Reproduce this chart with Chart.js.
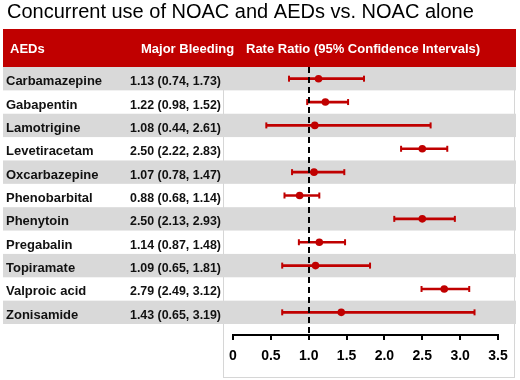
<!DOCTYPE html>
<html>
<head>
<meta charset="utf-8">
<script src="https://cdn.jsdelivr.net/npm/chart.js@4.4.0/dist/chart.umd.min.js"></script>
<style>
  html, body { margin: 0; padding: 0; background: #fff; }
  canvas { display: block; }
</style>
</head>
<body>
<canvas id="chart" width="520" height="380"></canvas>
<script>
// ------ DATA ------
const TITLE = "Concurrent use of NOAC and AEDs vs. NOAC alone";
const HEADERS = ["AEDs", "Major Bleeding", "Rate Ratio (95% Confidence Intervals)"];
const drugs = ["Carbamazepine", "Gabapentin", "Lamotrigine", "Levetiracetam", "Oxcarbazepine",
  "Phenobarbital", "Phenytoin", "Pregabalin", "Topiramate", "Valproic acid", "Zonisamide"];
const rateRatio = [1.13, 1.22, 1.08, 2.50, 1.07, 0.88, 2.50, 1.14, 1.09, 2.79, 1.43];
const ciLow     = [0.74, 0.98, 0.44, 2.22, 0.78, 0.68, 2.13, 0.87, 0.65, 2.49, 0.65];
const ciHigh    = [1.73, 1.52, 2.61, 2.83, 1.47, 1.14, 2.93, 1.48, 1.81, 3.12, 3.19];
const xTicks = [0, 0.5, 1, 1.5, 2, 2.5, 3, 3.5];
const refLine = 1;

// ------ STYLE ------
const RED = '#c00000';
const GREY = '#d9d9d9';
const FONT = "'Liberation Sans', Arial, sans-serif";

// helper: text with a horizontal squeeze
function drawText(ctx, txt, x, y, font, color, sx){
  ctx.save();
  ctx.font = font; ctx.fillStyle = color; ctx.textBaseline = 'alphabetic'; ctx.textAlign = 'left';
  ctx.translate(x, y); ctx.scale(sx || 1, 1);
  ctx.fillText(txt, 0, 0);
  ctx.restore();
}

// table behind the plot: title, red header, striped rows, labels
const tablePlugin = {
  id: 'table',
  beforeDraw(chart){
    const ctx = chart.ctx, ys = chart.scales.y;
    const top = i => ys.getPixelForValue(i - 0.5);
    const bot = i => ys.getPixelForValue(i + 0.5);
    ctx.save();
    ctx.fillStyle = '#fff'; ctx.fillRect(0, 0, chart.width, chart.height);

    drawText(ctx, TITLE, 7, 18, `20px ${FONT}`, '#000');

    // header band
    ctx.fillStyle = RED;
    ctx.fillRect(3, 29, 513, top(0) - 29);
    drawText(ctx, HEADERS[0], 10, 53, `bold 13px ${FONT}`, '#fff');
    drawText(ctx, HEADERS[1], 141, 53, `bold 13px ${FONT}`, '#fff');
    drawText(ctx, HEADERS[2], 246, 53, `bold 13px ${FONT}`, '#fff');

    // plot frame
    ctx.strokeStyle = '#d6d6d6'; ctx.lineWidth = 1;
    ctx.strokeRect(223.5, top(0) + 0.5, 291, 377 - top(0));

    // value column squeezed to ~91px like the original
    const valFont = `bold 13px ${FONT}`;
    ctx.font = valFont;
    const sx = 91 / ctx.measureText("1.13 (0.74, 1.73)").width;

    // rows
    drugs.forEach((d, i) => {
      if(i % 2 === 0){ ctx.fillStyle = GREY; ctx.fillRect(3, top(i), 513, bot(i) - top(i)); }
      const base = (top(i) + bot(i)) / 2 + 6.5;
      drawText(ctx, d, 6, base, `bold 13px ${FONT}`, '#111');
      const s = `${rateRatio[i].toFixed(2)} (${ciLow[i].toFixed(2)}, ${ciHigh[i].toFixed(2)})`;
      drawText(ctx, s, 130, base, valFont, '#111', sx);
    });
    ctx.restore();
  },
  afterDatasetsDraw(chart){
    const ctx = chart.ctx, xs = chart.scales.x, ys = chart.scales.y;
    const x = Math.round(xs.getPixelForValue(refLine));
    ctx.save();
    ctx.strokeStyle = '#000'; ctx.lineWidth = 2; ctx.setLineDash([6, 4]);
    ctx.beginPath();
    ctx.moveTo(x, ys.getPixelForValue(-0.5));
    ctx.lineTo(x, chart.chartArea.bottom);
    ctx.stroke();
    ctx.restore();
  }
};

const ciData = drugs.map((d, i) => ({x: [ciLow[i], ciHigh[i]], y: i}));
const capData = drugs.flatMap((d, i) => [{x: ciLow[i], y: i}, {x: ciHigh[i], y: i}]);
const pointData = drugs.map((d, i) => ({x: rateRatio[i], y: i}));

new Chart(document.getElementById('chart'), {
  type: 'scatter',
  data: {
    datasets: [
      {type: 'bar', indexAxis: 'y', data: ciData, backgroundColor: RED, barThickness: 2, order: 3},
      {data: capData, pointStyle: 'line', rotation: 90, radius: 3, borderWidth: 2, borderColor: RED, order: 2},
      {data: pointData, pointStyle: 'circle', radius: 3.8, borderWidth: 0, backgroundColor: RED, order: 1}
    ]
  },
  options: {
    responsive: false,
    animation: false,
    devicePixelRatio: 1,
    layout: {padding: {left: 233, right: 22, top: 67, bottom: 0}},
    plugins: {legend: {display: false}, tooltip: {enabled: false}, title: {display: false}},
    scales: {
      x: {
        type: 'linear', min: 0, max: 3.5, offset: false,
        afterBuildTicks: s => { s.ticks = xTicks.map(v => ({value: v})); },
        afterFit: s => { s.height = 45; },
        ticks: {color: '#000', font: {family: FONT, size: 14, weight: 'bold'}, padding: 8, maxRotation: 0},
        grid: {drawOnChartArea: false, drawTicks: true, tickLength: 5, color: '#000', lineWidth: 2, offset: false},
        border: {display: true, color: '#000', width: 2}
      },
      y: {
        type: 'linear', reverse: true, min: -0.5, max: 10.97, display: false,
        offset: false, grid: {offset: false}
      }
    }
  },
  plugins: [tablePlugin]
});
</script>
</body>
</html>
